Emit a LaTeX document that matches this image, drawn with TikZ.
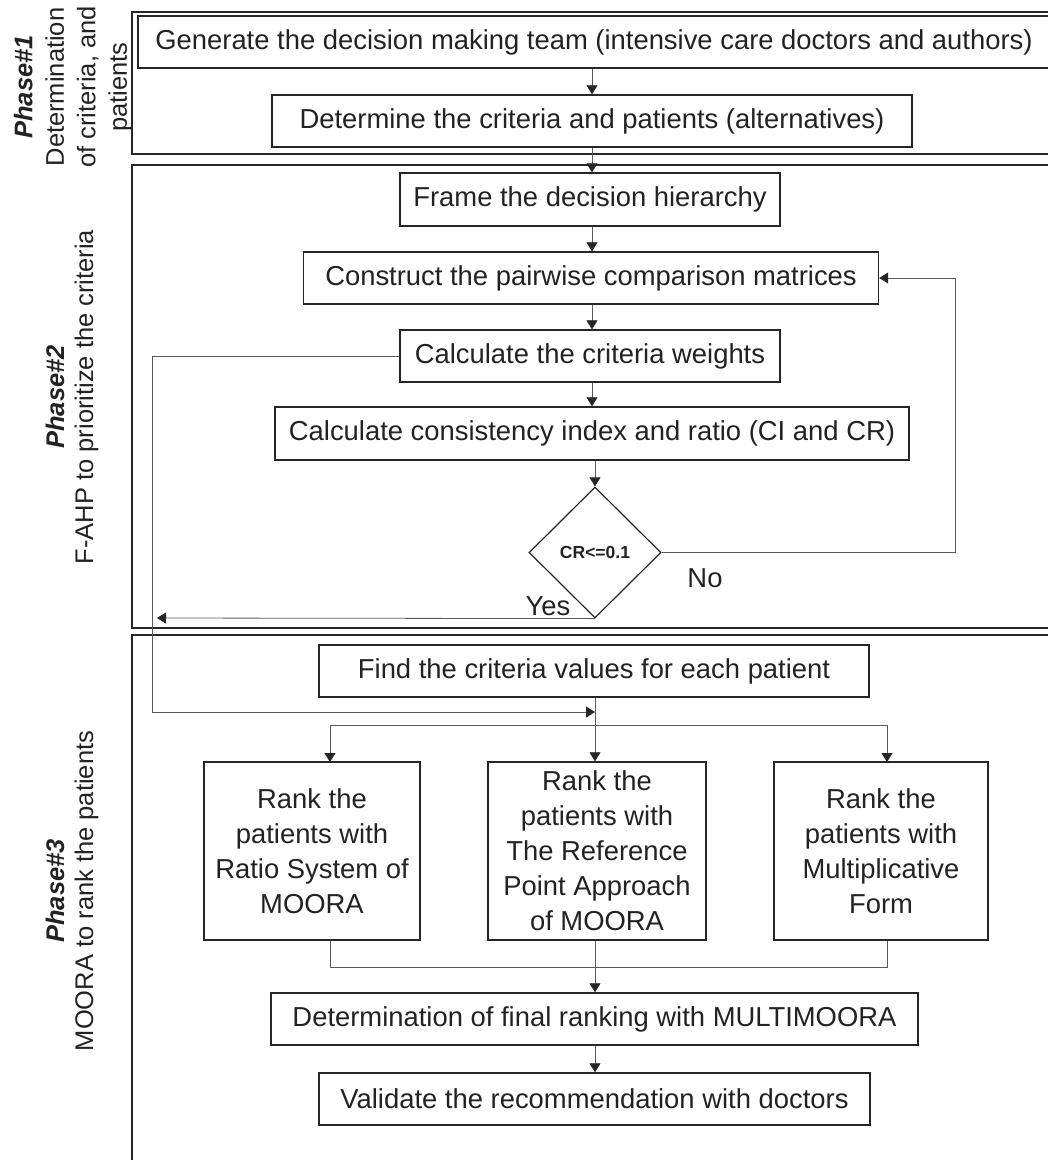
\documentclass[tikz,border=0pt]{standalone}
\usepackage{fontspec}
\setmainfont{Liberation Sans}
\usetikzlibrary{arrows.meta,shapes.geometric}
\definecolor{txt}{HTML}{222222}
\definecolor{boxc}{HTML}{262626}
\definecolor{linec}{HTML}{5A5A5A}
\begin{document}
\begin{tikzpicture}[x=1pt,y=-1pt,
  stepbox/.style={draw=boxc, line width=1.4pt, inner sep=0pt, text=txt, align=center,
    font=\fontsize{27.4}{35}\selectfont},
  decbox/.style={draw=boxc, line width=1.2pt, diamond, inner sep=0pt, text=txt,
    minimum width=132pt, minimum height=131pt, font=\bfseries\fontsize{17.5}{20}\selectfont},
  framebox/.style={draw=boxc, line width=1.6pt},
  conn/.style={draw=linec, line width=0.8pt},
  arr/.style={conn, -{Triangle[length=9pt,width=11pt,color=boxc]}},
  phaselbl/.style={rotate=90, align=center, text=txt, inner sep=0pt},
  lbl/.style={text=txt, inner sep=0pt, font=\fontsize{27.4}{32}\selectfont}
]
\useasboundingbox (0,0) rectangle (1048,1160);
\clip (0,0) rectangle (1048,1160);

% phase frames
\draw[framebox] (1060,12) -- (132,12) -- (132,154) -- (1060,154);
\draw[framebox] (1060,165) -- (132,165) -- (132,628) -- (1060,628);
\draw[framebox] (1060,635) -- (132,635) -- (132,1170);

% phase labels
\node[phaselbl, font=\fontsize{25.5}{31.5}\selectfont] (p1) at (73,87)
  {\textbf{\textit{Phase\#1}}\\Determination\\of criteria, and\\patients};
\node[phaselbl, font=\fontsize{25.5}{29}\selectfont] (p2) at (72,397)
  {\textbf{\textit{Phase\#2}}\\F-AHP to prioritize the criteria};
\node[phaselbl, font=\fontsize{25.5}{29}\selectfont] (p3) at (72,891)
  {\textbf{\textit{Phase\#3}}\\MOORA to rank the patients};

% boxes
\node[stepbox, minimum width=912pt, minimum height=52pt] (gen) at (594,42)
  {Generate the decision making team (intensive care doctors and authors)};
\node[stepbox, minimum width=640pt, minimum height=52pt] (det) at (592,121)
  {Determine the criteria and patients (alternatives)};
\node[stepbox, minimum width=380pt, minimum height=53pt] (fr) at (590,199.5)
  {Frame the decision hierarchy};
\node[stepbox, minimum width=575pt, minimum height=52pt] (pw) at (591,278)
  {Construct the pairwise comparison matrices};
\node[stepbox, minimum width=380pt, minimum height=52pt] (wt) at (590,356)
  {Calculate the criteria weights};
\node[stepbox, minimum width=634pt, minimum height=53pt] (ci) at (592,433.5)
  {Calculate consistency index and ratio (CI and CR)};
\node[decbox] (dia) at (595,552.5) {CR<=0.1};
\node[lbl] (no) at (705,578) {No};
\node[lbl] (yes) at (548,606) {Yes};

\node[stepbox, minimum width=550pt, minimum height=52pt] (find) at (594,671)
  {Find the criteria values for each patient};
\node[stepbox, minimum width=216pt, minimum height=178pt] (b1) at (312,851)
  {Rank the\\patients with\\Ratio System of\\MOORA};
\node[stepbox, minimum width=218pt, minimum height=178pt] (b2) at (597,851)
  {Rank the\\patients with\\The Reference\\Point Approach\\of MOORA};
\node[stepbox, minimum width=214pt, minimum height=178pt] (b3) at (881,851)
  {Rank the\\patients with\\Multiplicative\\Form};
\node[stepbox, minimum width=647pt, minimum height=52pt] (fin) at (594.5,1019)
  {Determination of final ranking with MULTIMOORA};
\node[stepbox, minimum width=551pt, minimum height=52pt] (val) at (594.5,1099)
  {Validate the recommendation with doctors};

% helper coordinates
\coordinate (jn) at (595,725);
\coordinate (wtin) at (595,712);
\coordinate (wtcorner) at (152,712);
\coordinate (yesend) at (157,618);
\coordinate (nocorner) at (955,552.5);
\coordinate (a1) at (330,762);
\coordinate (a3) at (887,762);
\coordinate (m1) at (330,967);
\coordinate (m3) at (887,967);
\coordinate (mj) at (595,967);

% main column arrows
\draw[arr] (gen.south -| det.north) -- (det.north);
\draw[arr] (det.south) -- (det.south |- fr.north);
\draw[arr] (fr.south -| det.south) -- (det.south |- pw.north);
\draw[arr] (pw.south -| det.south) -- (det.south |- wt.north);
\draw[arr] (wt.south -| det.south) -- (det.south |- ci.north);
\draw[arr] (ci.south -| dia.north) -- (dia.north);

% loops
\draw[arr] (dia.east) -- (nocorner) |- (pw.east);
\draw[arr] (dia.south) -- (yesend);
\draw[arr] (wt.west) -| (wtcorner) -- (wtin);

% branch to three methods
\draw[conn] (find.south -| jn) -- (jn);
\draw[conn] (a1 |- jn) -- (a3 |- jn);
\draw[arr] (jn) -- (jn |- b2.north);
\draw[arr] (a1 |- jn) -- (a1);
\draw[arr] (a3 |- jn) -- (a3);

% merge
\draw[conn] (a1 |- b1.south) -- (m1) -- (m3) -- (a3 |- b3.south);
\draw[arr] (mj |- b2.south) -- (mj |- fin.north);
\draw[arr] (fin.south -| mj) -- (mj |- val.north);
\end{tikzpicture}
\end{document}
